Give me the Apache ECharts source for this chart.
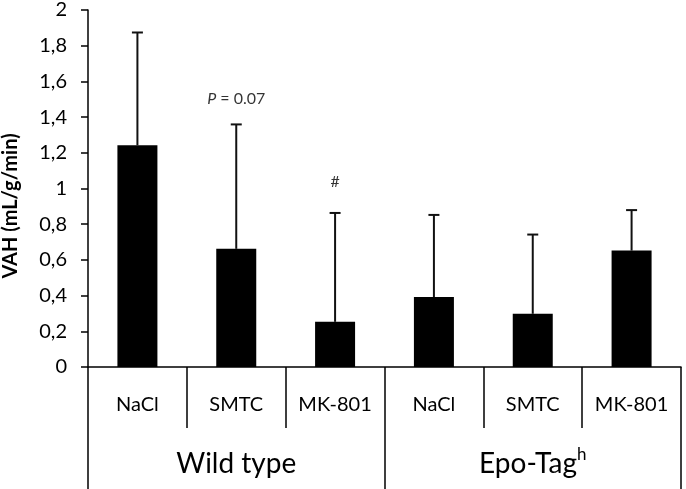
<!DOCTYPE html>
<html>
<head>
<meta charset="utf-8">
<script src="https://cdn.jsdelivr.net/npm/echarts@6/dist/echarts.min.js"></script>
<style>
html,body{margin:0;padding:0;background:#fff;}
#chart{width:686px;height:489px;}
</style>
</head>
<body>
<div id="chart"></div>
<script>
// ---- data ----
const categories = ['NaCl', 'SMTC', 'MK-801', 'NaCl', 'SMTC', 'MK-801'];
const groups = ['Wild type', 'Epo-Tag^h'];
const means = [1.242, 0.662, 0.253, 0.392, 0.298, 0.652];
const errTops = [1.874, 1.359, 0.863, 0.852, 0.742, 0.879];
const yTicks = [0, 0.2, 0.4, 0.6, 0.8, 1, 1.2, 1.4, 1.6, 1.8, 2];
const annotCats = [1, 2];
const annotValues = [1.50, 1.04];
const annotTexts = ['P = 0.07', '#'];
const yTitle = 'VAH (mL/g/min)';

const FONT = 'Lato';
const chart = echarts.init(document.getElementById('chart'), null, {renderer: 'canvas'});

const option = {
  animation: false,
  backgroundColor: '#fff',
  grid: {left: 88, right: 5, top: 7, bottom: 122, containLabel: false},
  xAxis: [
    {
      type: 'category',
      data: categories,
      position: 'bottom',
      boundaryGap: true,
      axisLine: {show: true, lineStyle: {color: '#000', width: 1.5}},
      axisTick: {show: true, length: 61, inside: false, alignWithLabel: false, lineStyle: {color: '#000', width: 1.5}},
      axisLabel: {color: '#000', fontFamily: FONT, fontSize: 20, margin: 28, interval: 0}
    },
    {
      type: 'category',
      data: groups,
      position: 'bottom',
      boundaryGap: true,
      axisLine: {show: false},
      axisTick: {show: true, length: 122, lineStyle: {color: '#000', width: 1.5}},
      axisLabel: {
        color: '#000', fontFamily: FONT, fontSize: 28, margin: 79, interval: 0,
        formatter: function (v) {
          const m = v.split('^');
          if (m.length > 1) return '{a|' + m[0] + '}{s|' + m[1] + '}';
          return '{a|' + v + '}';
        },
        rich: {
          a: {fontFamily: FONT, fontSize: 28, color: '#000', lineHeight: 32, verticalAlign: 'bottom'},
          s: {fontFamily: FONT, fontSize: 17, color: '#000', lineHeight: 32, verticalAlign: 'top', padding: [0, 0, 8, 0]}
        }
      }
    }
  ],
  yAxis: {
    type: 'value',
    min: yTicks[0],
    max: yTicks[yTicks.length - 1],
    interval: yTicks[1] - yTicks[0],
    axisLine: {show: true, lineStyle: {color: '#000', width: 1.5}},
    axisTick: {show: true, length: 7, lineStyle: {color: '#000', width: 1.5}},
    splitLine: {show: false},
    axisLabel: {
      color: '#000', fontFamily: FONT, fontSize: 20, margin: 21,
      formatter: function (v) { return String(Math.round(v * 10) / 10).replace('.', ','); }
    }
  },
  graphic: [{
    type: 'text',
    x: 11, y: 206,
    rotation: Math.PI / 2,
    style: {
      text: yTitle, fill: '#000', fontFamily: FONT, fontSize: 20, fontWeight: 'bold',
      align: 'center', verticalAlign: 'middle'
    }
  }],
  series: [
    {
      type: 'bar',
      data: means,
      barWidth: 40,
      itemStyle: {color: '#000'},
      xAxisIndex: 0
    },
    {
      type: 'custom',
      xAxisIndex: 0,
      data: means.map((m, i) => [i, m, errTops[i]]),
      z: 3,
      renderItem: function (params, api) {
        const x = api.value(0);
        const p0 = api.coord([x, api.value(1)]);
        const p1 = api.coord([x, api.value(2)]);
        const hw = 5.5;
        const st = {stroke: '#111', lineWidth: 2};
        return {
          type: 'group',
          children: [
            {type: 'line', shape: {x1: p0[0], y1: p0[1], x2: p1[0], y2: p1[1]}, style: st},
            {type: 'line', shape: {x1: p1[0] - hw, y1: p1[1], x2: p1[0] + hw, y2: p1[1]}, style: st}
          ]
        };
      }
    },
    {
      type: 'scatter',
      xAxisIndex: 0,
      symbolSize: 0,
      data: annotCats.map((c, i) => [c, annotValues[i], annotTexts[i]]),
      label: {
        show: true,
        position: 'inside',
        color: '#000',
        fontFamily: FONT,
        fontSize: 16,
        formatter: function (p) {
          const t = p.data[2];
          if (t.charAt(0) === 'P') return '{i|P}{n|' + t.slice(1) + '}';
          return '{n|' + t + '}';
        },
        rich: {
          i: {fontFamily: FONT, fontSize: 16, fontStyle: 'italic', color: '#000'},
          n: {fontFamily: FONT, fontSize: 16, color: '#000'}
        }
      }
    }
  ]
};
chart.setOption(option);
</script>
</body>
</html>
